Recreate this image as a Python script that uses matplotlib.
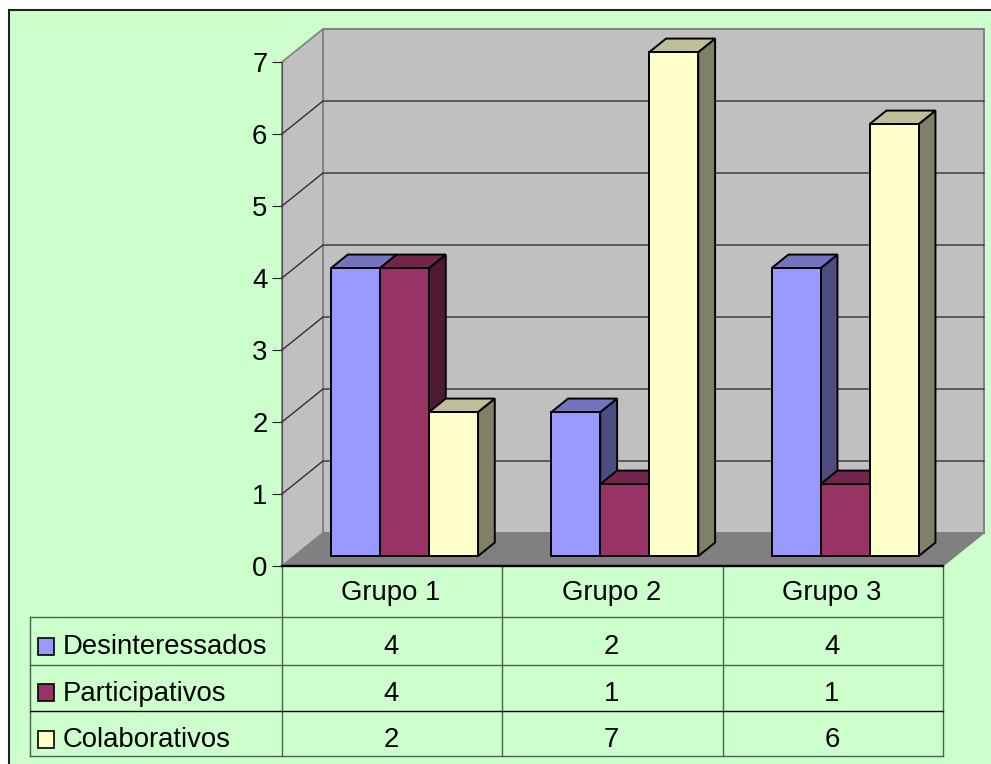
import matplotlib
matplotlib.use('Agg')
import matplotlib.pyplot as plt
from matplotlib.patches import Polygon, Rectangle

plt.rcParams['font.family'] = ['Liberation Sans', 'DejaVu Sans']

categories = ['Grupo 1', 'Grupo 2', 'Grupo 3']
series_names = ['Desinteressados', 'Participativos', 'Colaborativos']
desinteressados = [4, 2, 4]
participativos = [4, 1, 1]
colaborativos = [2, 7, 6]
series_values = [desinteressados, participativos, colaborativos]
y_ticks = [0, 1, 2, 3, 4, 5, 6, 7]

front_colors = ['#9999FF', '#993366', '#FFFFCC']
side_colors = ['#4D4D80', '#4D1A33', '#808066']
top_colors = ['#7373BF', '#73264D', '#BFBF99']

W, H = 991, 764
bg = '#CCFFCC'
font_size = 19.8
fig = plt.figure(figsize=(W / 100, H / 100), dpi=100, facecolor='white')

# fondo y borde, en pixeles
px = fig.add_axes([0, 0, 1, 1])
px.set_xlim(0, W)
px.set_ylim(H, 0)
px.axis('off')
px.add_patch(Rectangle((9, 10), W, H, facecolor=bg, edgecolor='#222222', lw=1.5))

# ejes del plano frontal
ax = fig.add_axes([282 / W, 1 - 566 / H, 661 / W, 504 / H])
ax.set_xlim(0, 3)
ax.set_ylim(0, 7)
ax.patch.set_alpha(0)
dx = 41 / (661 / 3)
dy = 33 / 72


def shift(x, y, d):
    return x + d * dx, y + d * dy


def poly(points, color, edge, lw, z):
    ax.add_patch(Polygon(points, closed=True, facecolor=color, edgecolor=edge,
                         lw=lw, zorder=z, clip_on=False, joinstyle='miter'))


# paredes y suelo
poly([shift(0, 0, 1), shift(3, 0, 1), shift(3, 7, 1), shift(0, 7, 1)], '#C0C0C0', '#808080', 1.4, 1)
poly([shift(0, 0, 0), shift(0, 0, 1), shift(0, 7, 1), shift(0, 7, 0)], '#C0C0C0', '#808080', 1.2, 1)
poly([shift(0, 0, 0), shift(3, 0, 0), shift(3, 0, 1), shift(0, 0, 1)], '#808080', '#808080', 0.8, 2)

for t in y_ticks[1:-1]:
    a = shift(0, t, 0)
    b = shift(0, t, 1)
    c = shift(3, t, 1)
    ax.plot([a[0], b[0], c[0]], [a[1], b[1], c[1]], color='#222222', lw=0.9,
            zorder=3, clip_on=False)

# barras
bar_w = 49 / (661 / 3)
depth_start = 0.3
depth_end = 0.71
for i in range(len(categories)):
    left = i + (1 - 3 * bar_w) / 2
    for j, values in enumerate(series_values):
        v = values[i]
        x0 = left + j * bar_w
        x1 = x0 + bar_w
        z = 4 + i * 3 + j * 0.3
        poly([shift(x1, 0, depth_start), shift(x1, 0, depth_end),
              shift(x1, v, depth_end), shift(x1, v, depth_start)],
             side_colors[j], 'black', 1.4, z)
        poly([shift(x0, v, depth_start), shift(x1, v, depth_start),
              shift(x1, v, depth_end), shift(x0, v, depth_end)],
             top_colors[j], 'black', 1.4, z + 0.05)
        poly([shift(x0, 0, depth_start), shift(x1, 0, depth_start),
              shift(x1, v, depth_start), shift(x0, v, depth_start)],
             front_colors[j], 'black', 1.4, z + 0.1)

ax.set_xticks([])
ax.set_yticks(y_ticks)
ax.tick_params(axis='y', length=7.5, width=0.8, pad=3, labelsize=font_size, color='#222222')
for name in ['top', 'right']:
    ax.spines[name].set_visible(False)
ax.spines['bottom'].set_linewidth(1.7)
ax.spines['bottom'].set_zorder(30)
ax.spines['left'].set_color('#555555')
ax.spines['left'].set_linewidth(0.9)

# tabla de datos
table_edge = '#4A634A'
col_x = [282, 502, 723, 943]
row_y = [566, 617, 665, 711, 756]
text_y = [593, 647, 694, 740]
swatch_y = [638, 684, 731]
for x in col_x:
    px.plot([x, x], [566, 756], color=table_edge, lw=1.0)
px.plot([30, 30], [617, 756], color=table_edge, lw=1.0)
for k, y in enumerate(row_y[1:]):
    px.plot([30, 943], [y, y], color='black' if k == 2 else table_edge, lw=1.0)

for i, cat in enumerate(categories):
    cx = (col_x[i] + col_x[i + 1]) / 2 - 1
    px.text(cx, text_y[0], cat, ha='center', va='center', fontsize=font_size)
    for j, values in enumerate(series_values):
        px.text(cx, text_y[j + 1], str(values[i]), ha='center', va='center', fontsize=font_size)

for j, name in enumerate(series_names):
    px.add_patch(Rectangle((38, swatch_y[j]), 16, 17, facecolor=front_colors[j],
                           edgecolor='black', lw=1.2))
    px.text(63, text_y[j + 1], name, ha='left', va='center', fontsize=font_size)

fig.savefig('out.png', dpi=100, facecolor=fig.get_facecolor())
